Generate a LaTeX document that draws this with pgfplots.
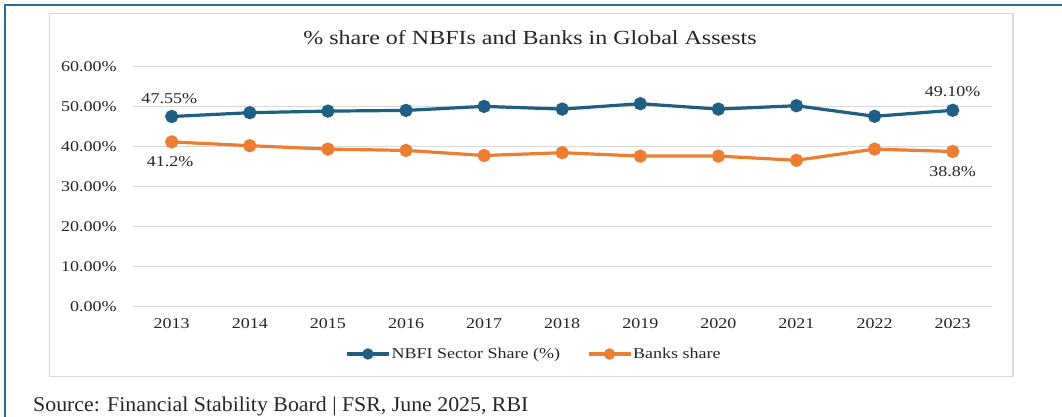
\documentclass[border=0pt]{standalone}
\usepackage{fontspec}
\setmainfont{Liberation Serif}[FakeStretch=1.2]
\newfontfamily\srcfont{Liberation Serif}[FakeStretch=1.04]
\usepackage{pgfplots}
\pgfplotsset{compat=1.18}
\definecolor{nbfi}{HTML}{1F5F83}
\definecolor{bank}{HTML}{ED7D31}
\definecolor{gridc}{HTML}{D9D9D9}
\definecolor{frameblue}{HTML}{2B6C98}
\definecolor{txt}{HTML}{262626}
\begin{document}
\begin{tikzpicture}[x=1pt,y=1pt]
\path[use as bounding box] (0,0) rectangle (1062,417);
\begin{scope}
\clip (0,0) rectangle (1062,417);
\draw[frameblue, line width=2pt] (5,-10) -- (5,412) -- (1080,412);
\end{scope}
\draw[gridc, line width=1.5pt, fill=white] (49.3,40.3) rectangle (1013,403.7);
\node[font=\fontsize{20}{24}\selectfont, text=txt, inner sep=0pt] at (530,379) {\% share of NBFIs and Banks in Global Assests};
\node[font=\srcfont\fontsize{21}{25}\selectfont, text=txt, anchor=base west, inner sep=0pt] at (33,5.3) {Source: Financial Stability Board | FSR, June 2025, RBI};
\begin{axis}[
  at={(132.7pt,110.3pt)}, anchor=south west,
  scale only axis, width=859pt, height=240pt,
  xmin=-0.5, xmax=10.5, ymin=0, ymax=60,
  axis line style={draw=none}, tick style={draw=none},
  major tick length=0pt,
  ytick={0,10,20,30,40,50,60},
  yticklabels={0.00\%,10.00\%,20.00\%,30.00\%,40.00\%,50.00\%,60.00\%},
  xtick={0,1,2,3,4,5,6,7,8,9,10},
  xticklabels={2013,2014,2015,2016,2017,2018,2019,2020,2021,2022,2023},
  ymajorgrids, grid style={gridc, line width=1.3pt},
  yticklabel style={font=\fontsize{15}{18}\selectfont, text=txt, anchor=east, inner sep=0pt, xshift=-16pt},
  xticklabel style={font=\fontsize{15}{18}\selectfont, text=txt, anchor=north, inner sep=0pt, yshift=-11.5pt},
  clip=false,
  legend columns=2,
  legend style={draw=none, fill=none, at={(0.4666,-0.197)}, anchor=center,
    font=\fontsize{15}{18}\selectfont, text=txt,
    /tikz/every even column/.append style={column sep=26pt},
    nodes={inner sep=1pt}},
  legend image code/.code={\draw[mark repeat=2,mark phase=2,mark size=4pt,#1] plot coordinates {(0pt,0pt) (21pt,0pt) (42pt,0pt)};},
]
\addplot[nbfi, line width=3.2pt, mark=*, mark size=5pt, mark options={solid}] coordinates {
(0,47.55) (1,48.5) (2,48.9) (3,49.07) (4,50.08) (5,49.4) (6,50.75) (7,49.4) (8,50.24) (9,47.6) (10,49.10)};
\addlegendentry{NBFI Sector Share (\%)}
\addplot[bank, line width=3.2pt, mark=*, mark size=5pt, mark options={solid}] coordinates {
(0,41.2) (1,40.25) (2,39.4) (3,39.07) (4,37.8) (5,38.5) (6,37.65) (7,37.65) (8,36.6) (9,39.4) (10,38.8)};
\addlegendentry{Banks share}
\node[font=\fontsize{15}{18}\selectfont, text=txt] at (axis cs:0,47.55) [xshift=-2.5pt, yshift=18pt] {47.55\%};
\node[font=\fontsize{15}{18}\selectfont, text=txt] at (axis cs:0,41.2) [xshift=-1.5pt, yshift=-20pt] {41.2\%};
\node[font=\fontsize{15}{18}\selectfont, text=txt] at (axis cs:10,49.10) [yshift=18.3pt] {49.10\%};
\node[font=\fontsize{15}{18}\selectfont, text=txt] at (axis cs:10,38.8) [yshift=-19.7pt] {38.8\%};
\end{axis}
\end{tikzpicture}
\end{document}
